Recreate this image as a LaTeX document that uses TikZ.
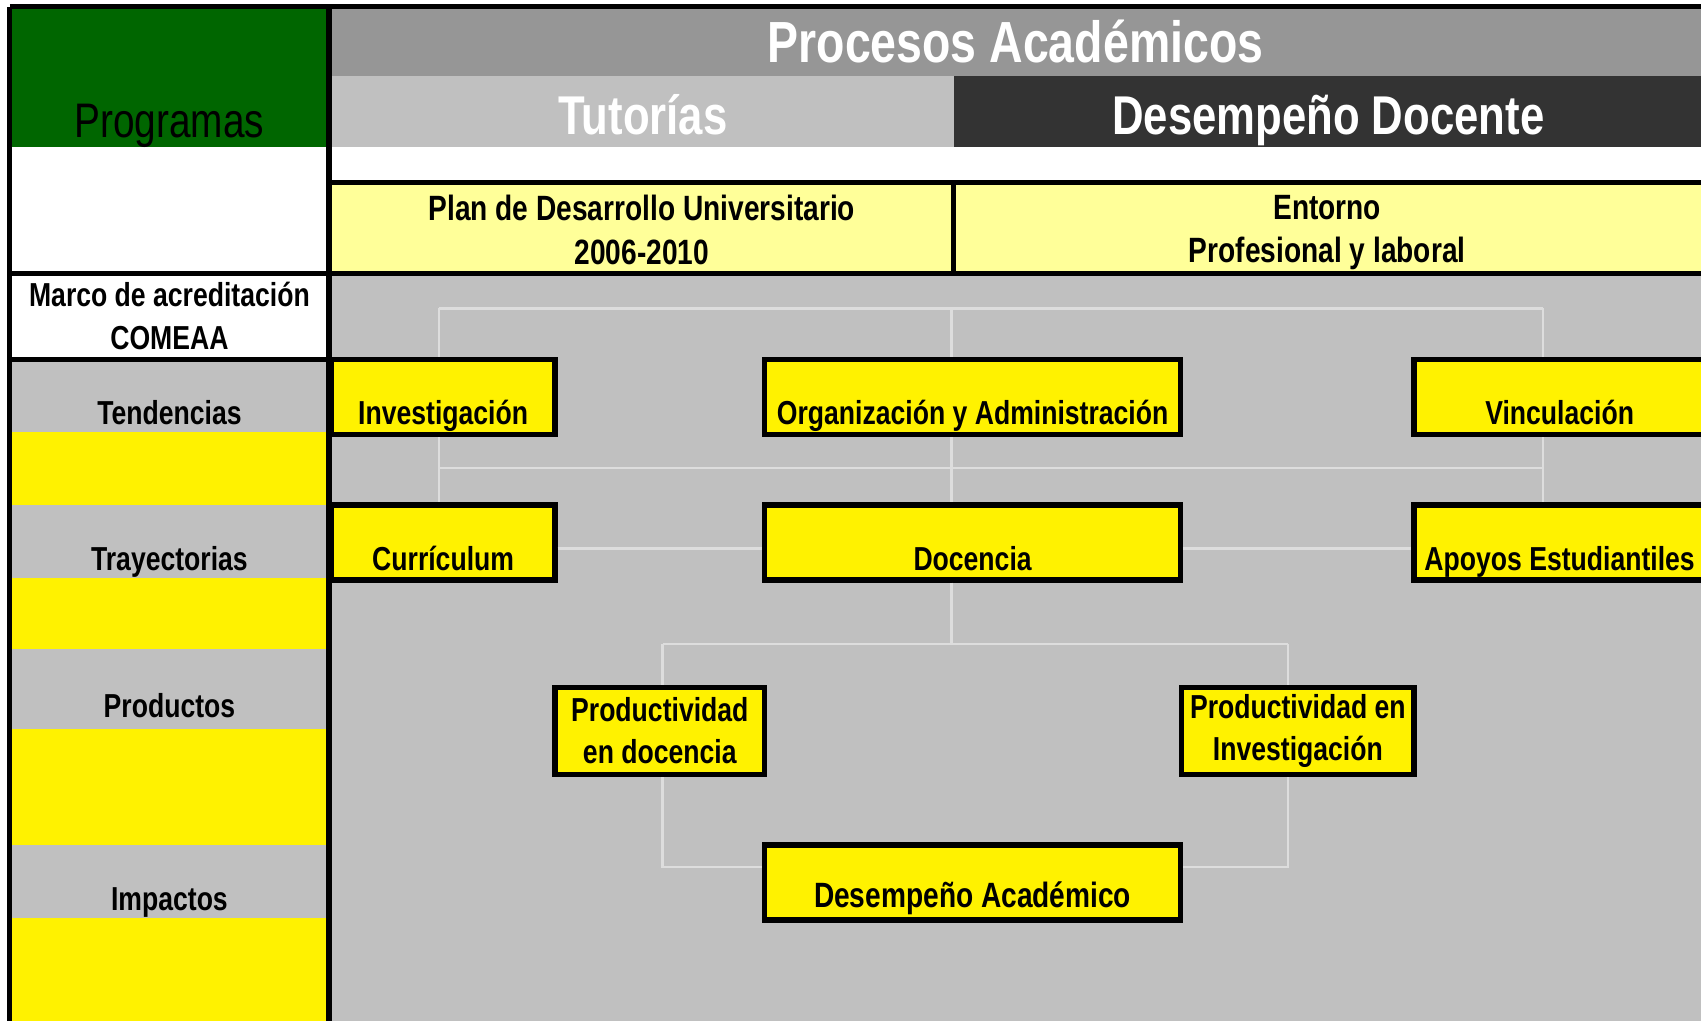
\documentclass[tikz,border=0pt]{standalone}
\usepackage{fontspec}
\setmainfont{Liberation Sans}[FakeStretch=0.80]
\definecolor{verde}{HTML}{006600}
\definecolor{grismedio}{HTML}{969696}
\definecolor{grisclaro}{HTML}{C0C0C0}
\definecolor{grisoscuro}{HTML}{333333}
\definecolor{amarillopalido}{HTML}{FFFF99}
\definecolor{grisconector}{HTML}{DDDDDD}

\begin{document}
\begin{tikzpicture}[x=0.01cm,y=-0.01cm,
	marco/.style={line width=1.4pt},
	caja/.style={draw,line width=1.4pt,fill=yellow,inner sep=0pt,font=\bfseries\fontsize{8.7}{11}\selectfont},
	bajo/.style={text height=0.60cm,text depth=0.09cm,minimum height=0.69cm},
	fila/.style={fill=grisclaro,inner sep=0pt,minimum width=2.94cm,text height=0.60cm,text depth=0.07cm,font=\bfseries\fontsize{8.7}{11}\selectfont},
	rotulo/.style={text=white,anchor=base,inner sep=0pt,font=\bfseries\fontsize{14.3}{16}\selectfont},
	texto/.style={align=center,inner sep=0pt,font=\bfseries\fontsize{8.7}{11.4}\selectfont},
	conector/.style={draw=grisconector,line width=0.6pt}]
	
	\useasboundingbox (0,0) rectangle (1568,940);
	\begin{scope}
	\clip (6,3) rectangle (1566,945);
	
	\fill[verde] (9,6) rectangle (303,135);
	\fill[grismedio] (303,6) rectangle (1566,70);
	\fill[grisclaro] (303,70) rectangle (878,135);
	\fill[grisoscuro] (878,70) rectangle (1566,135);
	\fill[amarillopalido] (303,168) rectangle (1566,252);
	\fill[grisclaro] (303,252) rectangle (1566,945);
	\fill[yellow] (9,398) rectangle (303,465);
	\fill[yellow] (9,532) rectangle (303,598);
	\fill[yellow] (9,671) rectangle (303,778);
	\fill[yellow] (9,845) rectangle (303,945);
	
	\node[anchor=base,inner sep=0pt,font=\fontsize{12.7}{14}\selectfont] (programas) at (156,127) {Programas};
	\node[rotulo,font=\bfseries\fontsize{15.2}{17}\selectfont] (procesos) at (935,58) {Procesos Académicos};
	\node[rotulo] (tutorias) at (592,124) {Tutorías};
	\node[rotulo] (desempeno) at (1223,124) {Desempeño Docente};
	\node[texto,font=\bfseries\fontsize{9.2}{11.4}\selectfont] (plan) at (591,211.5) {Plan de Desarrollo Universitario\\2006-2010};
	\node[texto,font=\bfseries\fontsize{9.2}{11.4}\selectfont] (entorno) at (1222,214) {Entorno\\Profesional y laboral};
	\node[texto] (acreditacion) at (156,291) {Marco de acreditación\\COMEAA};
	
	\node[fila] (tendencias) at (156,364.5) {Tendencias};
	\node[fila] (trayectorias) at (156,498.5) {Trayectorias};
	\node[fila,text height=0.63cm,text depth=0.10cm] (productos) at (156,634.5) {Productos};
	\node[fila] (impactos) at (156,811.5) {Impactos};
	
	\node[caja,bajo,minimum width=2.06cm] (inv) at (408,365.5) {Investigación};
	\node[caja,bajo,minimum width=3.83cm] (org) at (895.5,365.5) {Organización y Administración};
	\node[caja,bajo,minimum width=2.68cm] (vin) at (1436,365.5) {Vinculación};
	\node[caja,bajo,minimum width=2.06cm] (cur) at (408,499.5) {Currículum};
	\node[caja,bajo,minimum width=3.83cm] (doc) at (895.5,499.5) {Docencia};
	\node[caja,bajo,minimum width=2.68cm] (apo) at (1436,499.5) {Apoyos Estudiantiles};
	\node[caja,align=center,minimum width=1.93cm,minimum height=0.80cm] (pdd) at (607.5,673) {Productividad\\en docencia};
	\node[caja,align=center,minimum width=2.14cm,minimum height=0.80cm] (pdi) at (1195,673) {Productividad en\\Investigación};
	\node[caja,bajo,minimum width=3.83cm,text height=0.58cm,text depth=0.11cm,font=\bfseries\fontsize{9.2}{11}\selectfont] (dac) at (895.5,812.5) {Desempeño Académico};
	
	\coordinate (a1) at (404,284);
	\coordinate (a2) at (876,284);
	\coordinate (a3) at (1421,284);
	\coordinate (b1) at (404,431);
	\coordinate (b2) at (876,431);
	\coordinate (b3) at (1421,431);
	\coordinate (e) at (0,505);
	\coordinate (c1) at (610,593);
	\coordinate (c2) at (1186,593);
	\coordinate (d1) at (610,798);
	\coordinate (d2) at (1186,798);
	
	\draw[conector] (a1) -- (a3);
	\draw[conector] (a1) -- (a1 |- inv.north);
	\draw[conector] (a2) -- (a2 |- org.north);
	\draw[conector] (a3) -- (a3 |- vin.north);
	\draw[conector] (b1) -- (b3);
	\draw[conector] (b1 |- inv.south) -- (b1 |- cur.north);
	\draw[conector] (b2 |- org.south) -- (b2 |- doc.north);
	\draw[conector] (b3 |- vin.south) -- (b3 |- apo.north);
	\draw[conector] (cur.east |- e) -- (doc.west |- e);
	\draw[conector] (doc.east |- e) -- (apo.west |- e);
	\draw[conector] (b2 |- doc.south) -- (b2 |- c1);
	\draw[conector] (c1) -- (c2);
	\draw[conector] (c1) -- (c1 |- pdd.north);
	\draw[conector] (c2) -- (c2 |- pdi.north);
	\draw[conector] (c1 |- pdd.south) -- (d1) -- (d1 -| dac.west);
	\draw[conector] (c2 |- pdi.south) -- (d2) -- (d2 -| dac.east);
	
	\draw[marco] (9,6) -- (1566,6);
	\draw[marco] (9,6) -- (9,945);
	\draw[marco] (303,6) -- (303,945);
	\draw[marco] (303,168) -- (1566,168);
	\draw[marco] (9,252) -- (1566,252);
	\draw[marco] (9,331) -- (303,331);
	\draw[marco] (878,168) -- (878,252);
	\end{scope}
	
\end{tikzpicture}
\end{document}
